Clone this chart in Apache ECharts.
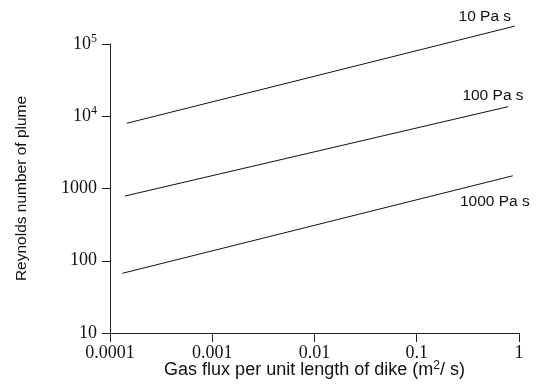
<!DOCTYPE html>
<html>
<head>
<meta charset="utf-8">
<script src="https://cdn.jsdelivr.net/npm/echarts@6/dist/echarts.min.js"></script>
<style>
  html, body { margin: 0; padding: 0; background: #fff; }
  #chart { width: 537px; height: 384px; }
</style>
</head>
<body>
<div id="chart"></div>
<script>
// Reynolds number of a plume vs. gas flux per unit dike length, for three viscosities
const viscosityLabels = ['10 Pa s', '100 Pa s', '1000 Pa s'];
const fluxEnds = [
  [1.46e-4, 0.91],
  [1.40e-4, 0.78],
  [1.32e-4, 0.87]
];
const reynoldsEnds = [
  [8000, 177000],
  [787, 13560],
  [67, 1500]
];
const xTickLabels = ['0.0001', '0.001', '0.01', '0.1', '1'];
const yTickLabels = ['10', '100', '1000', '10{s|4}', '10{s|5}'];

// label placement beside the right end of each line
const endLabelStyle = [
  { position: 'top', offset: [-30, 4] },
  { position: 'top', offset: [-15, 3] },
  { position: 'bottom', offset: [-18, 12] }
];

const series = viscosityLabels.map((name, i) => ({
  name: name,
  type: 'line',
  clip: false,
  symbol: 'circle',
  symbolSize: 1,
  showSymbol: true,
  itemStyle: { color: 'rgba(0,0,0,0)', borderWidth: 0 },
  lineStyle: { color: '#111', width: 1 },
  data: fluxEnds[i].map((x, j) => {
    const item = { value: [x, reynoldsEnds[i][j]] };
    if (j === fluxEnds[i].length - 1) {
      item.label = Object.assign({
        show: true,
        formatter: name,
        color: '#111',
        fontFamily: 'Liberation Sans',
        fontSize: 15.5
      }, endLabelStyle[i]);
    }
    return item;
  })
}));

const chart = echarts.init(document.getElementById('chart'), null, { renderer: 'canvas' });
chart.setOption({
  animation: false,
  backgroundColor: '#fff',
  grid: { left: 110, right: 18, top: 44, bottom: 51, containLabel: false, outerBoundsMode: 'none' },
  xAxis: {
    type: 'log',
    logBase: 10,
    min: 1e-4,
    max: 1,
    name: 'Gas flux per unit length of dike (m{sup|2}/ s)',
    nameLocation: 'middle',
    nameGap: 27,
    nameMoveOverlap: false,
    nameTextStyle: {
      fontFamily: 'Liberation Sans', fontSize: 18, color: '#111',
      rich: {
        sup: { fontFamily: 'Liberation Sans', fontSize: 12, color: '#111', padding: [0, 0, 9, 0] }
      }
    },
    axisLine: { lineStyle: { color: '#222', width: 1 } },
    axisTick: { show: true, length: 9, lineStyle: { color: '#222' } },
    splitLine: { show: false },
    minorTick: { show: false },
    axisLabel: {
      margin: 11,
      fontFamily: 'Liberation Serif',
      fontSize: 18,
      color: '#111',
      formatter: v => xTickLabels[Math.round(Math.log10(v)) + 4]
    }
  },
  yAxis: {
    type: 'log',
    logBase: 10,
    min: 10,
    max: 1e5,
    name: 'Reynolds number of plume',
    nameLocation: 'middle',
    nameGap: 80,
    nameRotate: 90,
    nameMoveOverlap: false,
    nameTextStyle: { fontFamily: 'Liberation Sans', fontSize: 15.5, color: '#111' },
    axisLine: { show: true, lineStyle: { color: '#222', width: 1 } },
    axisTick: { show: true, length: 8, lineStyle: { color: '#222' } },
    splitLine: { show: false },
    axisLabel: {
      margin: 13,
      fontFamily: 'Liberation Serif',
      fontSize: 18,
      color: '#111',
      formatter: v => yTickLabels[Math.round(Math.log10(v)) - 1],
      rich: {
        s: { fontFamily: 'Liberation Serif', fontSize: 12, color: '#111', padding: [0, 0, 10, 0] }
      }
    }
  },
  series: series
});
</script>
</body>
</html>
